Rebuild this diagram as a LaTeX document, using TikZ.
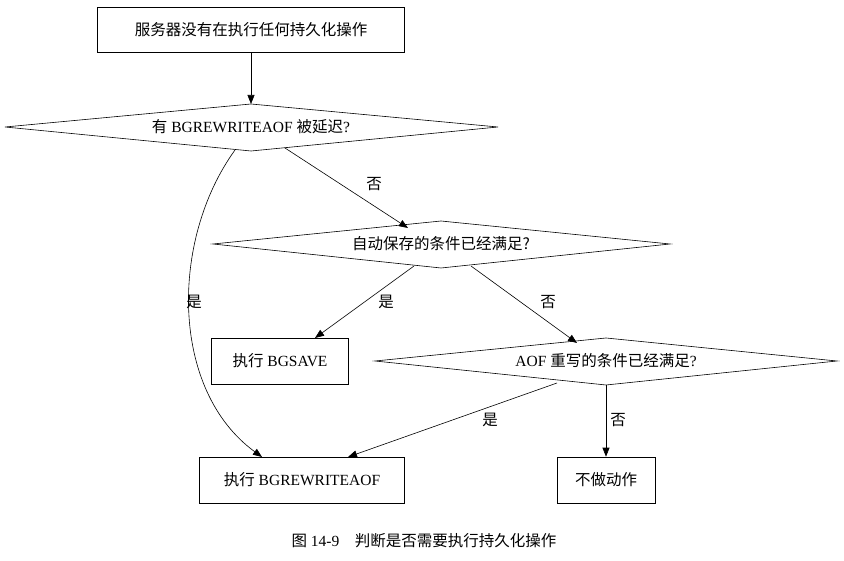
\documentclass[tikz,border=0pt]{standalone}
\usepackage{fontspec}
\setmainfont{Liberation Serif}
\newfontfamily\cjk{Noto Sans CJK SC}
\usetikzlibrary{arrows.meta}
\begin{document}
\begin{tikzpicture}[x=1pt,y=-1pt,font=\fontsize{15.5}{18}\selectfont,
  box/.style={draw,semithick,inner sep=0pt},
  dia/.style={semithick},
  arr/.style={semithick,-{Triangle[length=9pt,width=7pt]}},
  lab/.style={inner sep=1pt}]
\useasboundingbox (0,0) rectangle (844,561);
\node[box,minimum width=307pt,minimum height=45pt] (b1) at (251,29.5) {\cjk 服务器没有在执行任何持久化操作};
\node (d1) at (251,127) {{\cjk 有} BGREWRITEAOF {\cjk 被延迟}?};
\draw[dia] (5,127) -- (251,104) -- (498,127) -- (251,151) -- cycle;
\node (d2) at (441,244) {\cjk 自动保存的条件已经满足?};
\draw[dia] (213,244) -- (441,221) -- (670,244) -- (441,268) -- cycle;
\node[box,minimum width=137pt,minimum height=46pt] (bs) at (280,361) {{\cjk 执行} BGSAVE};
\node (d3) at (606,361) {AOF {\cjk 重写的条件已经满足}?};
\draw[dia] (375,361) -- (606,338) -- (837,361) -- (606,385) -- cycle;
\node[box,minimum width=205pt,minimum height=46pt] (br) at (302,480) {{\cjk 执行} BGREWRITEAOF};
\node[box,minimum width=98pt,minimum height=46pt] (bn) at (606,480) {\cjk 不做动作};
\node (cap) at (424,541) {{\cjk 图} 14-9\quad{\cjk 判断是否需要执行持久化操作}};
\coordinate (p0) at (251,104);
\draw[arr] (b1.south) -- (p0);
\coordinate (p1) at (285,148); \coordinate (q1) at (408,228);
\draw[arr] (p1) -- (q1);
\node[lab] (l1) at (374,184) {\cjk 否};
\coordinate (p2) at (235,150); \coordinate (q2) at (262,457);
\draw[arr] (p2) .. controls (170,240) and (170,390) .. (q2);
\node[lab] (l2) at (194,302) {\cjk 是};
\coordinate (p3) at (414,266); \coordinate (q3) at (315,338);
\draw[arr] (p3) -- (q3);
\node[lab] (l3) at (386,302) {\cjk 是};
\coordinate (p4) at (471,266); \coordinate (q4) at (577,343);
\draw[arr] (p4) -- (q4);
\node[lab] (l4) at (548,302) {\cjk 否};
\coordinate (p5) at (557,383); \coordinate (q5) at (348,457);
\draw[arr] (p5) -- (q5);
\node[lab] (l5) at (490,420) {\cjk 是};
\coordinate (p6) at (606,385);
\draw[arr] (p6) -- (bn.north);
\node[lab] (l6) at (618,420) {\cjk 否};
\end{tikzpicture}
\end{document}
